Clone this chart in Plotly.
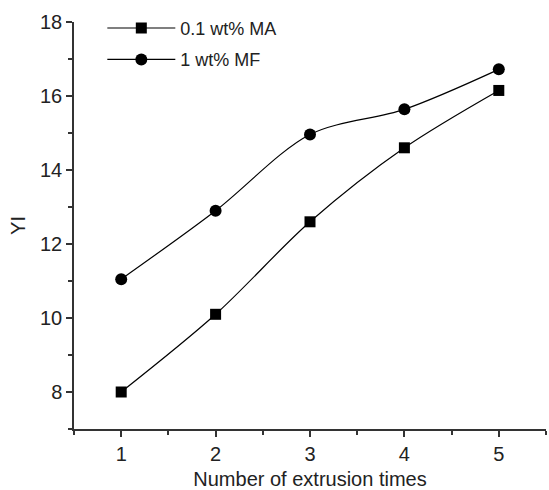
import plotly.graph_objects as go

extrusion_times = [1, 2, 3, 4, 5]
yi_ma = [8.0, 10.1, 12.6, 14.6, 16.15]
yi_mf = [11.05, 12.9, 14.96, 15.64, 16.72]
series_names = ["0.1 wt% MA", "1 wt% MF"]

FONT = "Liberation Sans, Arial"

fig = go.Figure()
fig.add_trace(go.Scatter(
    x=extrusion_times, y=yi_ma, name=series_names[0], legendgroup="a",
    mode="lines+markers",
    line=dict(color="black", width=1.2, shape="spline", smoothing=0.9),
    marker=dict(symbol="square", size=11, color="black"),
))
fig.add_trace(go.Scatter(
    x=extrusion_times, y=yi_mf, name=series_names[1], legendgroup="b",
    mode="lines+markers",
    line=dict(color="black", width=1.2, shape="spline", smoothing=0.9),
    marker=dict(symbol="circle", size=12, color="black"),
))

axis_common = dict(
    showline=True, linecolor="#333", linewidth=1.5,
    ticks="outside", ticklen=6, tickwidth=1.5, tickcolor="#333",
    showgrid=False, zeroline=False, automargin=False,
    tickfont=dict(family=FONT, size=20, color="#222"),
    mirror=False,
)

fig.update_layout(
    width=549, height=490,
    margin=dict(l=74, r=3, t=22, b=61),
    paper_bgcolor="white", plot_bgcolor="white",
    font=dict(family=FONT, color="#222"),
    showlegend=True,
    legend=dict(
        x=0.06, y=1.03, xanchor="left", yanchor="top",
        bgcolor="rgba(0,0,0,0)", borderwidth=0,
        font=dict(family=FONT, size=18, color="#222"),
        itemwidth=68, tracegroupgap=5,
    ),
    xaxis=dict(
        axis_common, range=[0.5, 5.5], tickvals=[1, 2, 3, 4, 5],
        minor=dict(ticks="outside", ticklen=4, tickwidth=1.5, tickcolor="#333", dtick=0.5, tick0=0.5),
        title=dict(text="Number of extrusion times", font=dict(size=20, family=FONT), standoff=9),
    ),
    yaxis=dict(
        axis_common, range=[7, 18], tickvals=[8, 10, 12, 14, 16, 18],
        minor=dict(ticks="outside", ticklen=4, tickwidth=1.5, tickcolor="#333", dtick=1, tick0=7),
        title=dict(text="YI", font=dict(size=20, family=FONT), standoff=9),
    ),
)

fig.write_html(
    "out.html",
    config={"displayModeBar": False},
    post_script="document.body.style.margin='0';document.body.style.overflow='hidden';",
)
